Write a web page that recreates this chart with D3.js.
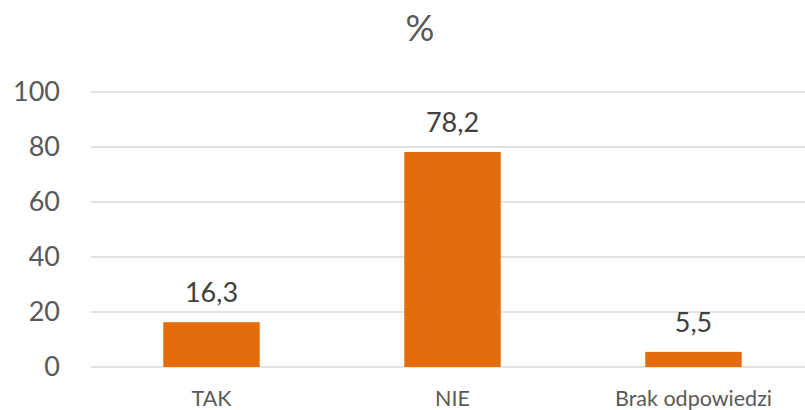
<!DOCTYPE html>
<html>
  <head>
    <meta charset="utf-8">
    <title></title>
    <script src="https://cdn.jsdelivr.net/npm/d3@7"></script>
    <style media="screen">
    body {margin:0;background:#fff;}
    svg {font-family:Lato, "Open Sans", sans-serif;}
    </style>
  </head>
  <body>
    <svg id="svg1" width="805" height="410"></svg>
    <script>
    // dane
    var categories=['TAK', 'NIE', 'Brak odpowiedzi'];
    var values=[16.3, 78.2, 5.5];
    var labels=['16,3', '78,2', '5,5'];
    var yTicks=[0, 20, 40, 60, 80, 100];

    var svg=d3.select('#svg1');

    var x=d3.scaleBand()
      .domain(categories)
      .range([91, 814])
      .paddingInner(0.6)
      .paddingOuter(0.3);

    var y=d3.scaleLinear()
      .domain([0, 100])
      .range([367, 92]);

    // tytuł
    svg.append('text')
      .attr('x', 420)
      .attr('y', 41)
      .attr('text-anchor', 'middle')
      .attr('font-size', 36)
      .attr('fill', '#595959')
      .text('%');

    // siatka
    svg.append('g')
      .selectAll('line')
      .data(yTicks)
      .enter().append('line')
      .attr('x1', 91)
      .attr('x2', 805)
      .attr('y1', d=>y(d))
      .attr('y2', d=>y(d))
      .attr('stroke', '#d9d9d9')
      .attr('stroke-width', 1.5);

    // oś Y
    var yAxis=svg.append('g')
      .attr('transform', 'translate(60,0)')
      .call(d3.axisLeft(y).tickValues(yTicks).tickSize(0).tickPadding(0));
    yAxis.select('.domain').remove();
    yAxis.selectAll('text')
      .attr('font-size', 27)
      .attr('font-family', 'Lato, sans-serif')
      .attr('fill', '#595959');

    // słupki
    svg.append('g')
      .selectAll('rect')
      .data(values)
      .enter().append('rect')
      .attr('x', (d, i)=>x(categories[i]))
      .attr('width', x.bandwidth())
      .attr('y', d=>y(d))
      .attr('height', d=>y(0)-y(d))
      .attr('fill', '#e36c0a');

    // etykiety danych
    svg.append('g')
      .selectAll('text')
      .data(values)
      .enter().append('text')
      .attr('x', (d, i)=>x(categories[i])+x.bandwidth()/2)
      .attr('y', d=>y(d)-20)
      .attr('text-anchor', 'middle')
      .attr('font-size', 27)
      .attr('fill', '#404040')
      .text((d, i)=>labels[i]);

    // oś X
    var xAxis=svg.append('g')
      .attr('transform', 'translate(0,367)')
      .call(d3.axisBottom(x).tickSize(0));
    xAxis.select('.domain').remove();
    xAxis.selectAll('text')
      .attr('y', 39)
      .attr('dy', null)
      .attr('font-size', 21.5)
      .attr('font-family', 'Lato, sans-serif')
      .attr('fill', '#595959');
    </script>
  </body>
</html>
